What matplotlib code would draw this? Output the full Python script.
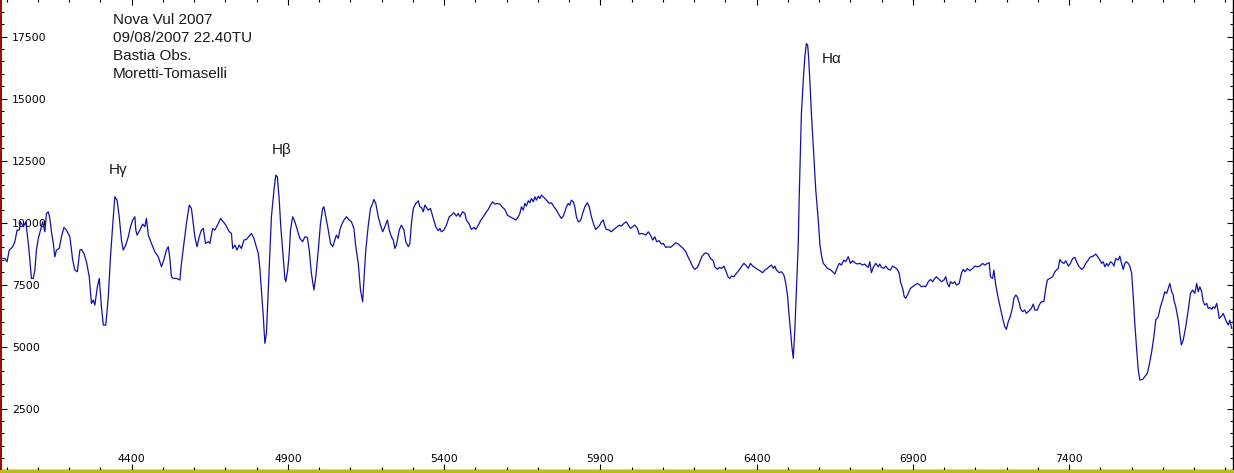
import matplotlib
matplotlib.use("Agg")
import matplotlib.pyplot as plt
from matplotlib.ticker import MultipleLocator
from matplotlib.patches import Rectangle

################################################
# Data
################################################

wavelength = [
    3978, 3983, 3994, 4001, 4008, 4019, 4026, 4033, 4040, 4044, 4053, 4061, 4069, 4074, 4079, 4085,
    4090, 4095, 4101, 4108, 4115, 4122, 4127, 4133, 4138, 4143, 4149, 4154, 4159, 4168, 4175, 4183,
    4191, 4202, 4211, 4218, 4226, 4234, 4239, 4247, 4255, 4264, 4271, 4277, 4282, 4290, 4296, 4303,
    4309, 4317, 4325, 4332, 4341, 4346, 4353, 4360, 4367, 4373, 4381, 4389, 4396, 4403, 4410, 4413,
    4417, 4426, 4435, 4442, 4447, 4453, 4463, 4474, 4485, 4495, 4501, 4511, 4517, 4522, 4527, 4533,
    4543, 4554, 4559, 4567, 4575, 4584, 4591, 4597, 4602, 4609, 4616, 4623, 4629, 4636, 4645, 4650,
    4659, 4666, 4677, 4684, 4693, 4701, 4712, 4719, 4723, 4730, 4737, 4744, 4751, 4759, 4767, 4776,
    4783, 4791, 4797, 4805, 4810, 4815, 4821, 4826, 4831, 4837, 4842, 4847, 4855, 4861, 4866, 4872,
    4877, 4883, 4890, 4893, 4899, 4904, 4908, 4915, 4922, 4930, 4938, 4947, 4954, 4962, 4968, 4975,
    4983, 4989, 4997, 5004, 5011, 5015, 5021, 5029, 5036, 5043, 5050, 5055, 5061, 5066, 5071, 5079,
    5087, 5096, 5103, 5111, 5117, 5125, 5132, 5139, 5143, 5149, 5157, 5164, 5171, 5175, 5181, 5189,
    5196, 5203, 5210, 5218, 5224, 5231, 5237, 5242, 5247, 5256, 5263, 5271, 5277, 5285, 5290,
    5295, 5301, 5309, 5317, 5322, 5327, 5333, 5338, 5343, 5349, 5356, 5365, 5373, 5381, 5386, 5391,
    5399, 5407, 5416, 5423, 5431, 5439, 5445, 5450, 5459, 5466, 5471, 5480, 5487, 5495, 5501, 5509,
    5516, 5525, 5533, 5541, 5548, 5555, 5562, 5570, 5578, 5587, 5594, 5602, 5610, 5621, 5629, 5637,
    5642, 5647, 5653, 5658, 5663, 5669, 5674, 5679, 5685, 5690, 5695, 5701, 5706, 5711, 5719, 5727,
    5736, 5743, 5751, 5759, 5768, 5775, 5781, 5786, 5791, 5797, 5802, 5807, 5813, 5818, 5823, 5829,
    5836, 5843, 5850, 5858, 5864, 5871, 5879, 5885, 5893, 5898, 5903, 5909, 5914, 5919, 5928, 5935,
    5943, 5951, 5960, 5967, 5975, 5983, 5989, 5996, 6003, 6010, 6018, 6024, 6032, 6039, 6045, 6053,
    6060, 6067, 6074, 6080, 6088, 6095, 6101, 6109, 6117, 6124, 6133, 6141, 6149, 6156, 6165, 6173,
    6181, 6188, 6195, 6202, 6210, 6216, 6224, 6231, 6237, 6245, 6252, 6261, 6266, 6274, 6280, 6288,
    6295, 6301, 6309, 6314,
    6319, 6327, 6335, 6344, 6351, 6359, 6365, 6373, 6380, 6387, 6394, 6402, 6410, 6419, 6426, 6434,
    6440, 6447, 6453, 6458, 6463, 6472, 6479, 6487, 6493, 6499, 6503, 6508, 6512, 6517, 6522, 6527,
    6533, 6536, 6540, 6543, 6549, 6554, 6559, 6563, 6566, 6570, 6575, 6583, 6589, 6597, 6602, 6607,
    6613, 6618, 6626, 6634, 6643, 6650, 6658, 6664, 6671, 6679, 6685, 6693, 6700, 6707, 6714, 6722,
    6730, 6739, 6746, 6751, 6757, 6762, 6767, 6773, 6781, 6789, 6794, 6799, 6807, 6813, 6821, 6828,
    6835, 6842, 6850, 6856, 6860, 6867, 6872, 6877, 6885, 6892, 6899, 6906, 6914, 6922,
    6927, 6935, 6941, 6949, 6956, 6963, 6970, 6975, 6984, 6991, 6999, 7005, 7010, 7016, 7020, 7027,
    7034, 7039, 7048, 7055, 7061, 7067, 7074, 7082, 7091, 7098, 7106, 7114, 7123, 7130, 7138, 7144,
    7148, 7155, 7159, 7165, 7173, 7180, 7187, 7194, 7199, 7205, 7212, 7219, 7223, 7229, 7234, 7240,
    7244, 7251, 7258, 7263, 7272, 7279, 7285, 7290, 7298, 7304, 7311, 7319, 7325, 7330, 7338, 7347,
    7354, 7359, 7365, 7370, 7375, 7383, 7389, 7397, 7404, 7411, 7418, 7426, 7432, 7440, 7447, 7453,
    7461, 7466, 7471, 7477, 7485, 7493, 7498, 7504, 7509, 7514, 7520, 7525, 7532, 7539, 7543, 7549,
    7557, 7562, 7567, 7573, 7578, 7583, 7589, 7594, 7600, 7605, 7610, 7616, 7621, 7626, 7635, 7642,
    7650, 7656, 7664, 7671, 7677, 7685, 7692, 7699, 7706, 7712, 7717, 7722, 7728, 7733, 7735, 7741,
    7749, 7754, 7759, 7765, 7773, 7781, 7788, 7795, 7802, 7808, 7813, 7818, 7824, 7829, 7834, 7840,
    7845, 7850, 7856, 7861, 7866, 7872, 7877, 7880, 7888, 7893, 7901, 7909, 7914, 7920,
]

flux = [
    8896, 8560, 8560, 8426, 8896, 9030, 9232, 9702, 9702, 10038, 9836, 10038, 9165, 8493, 7754, 7754,
    8090, 8896, 9366, 9702, 10038, 9635, 10373, 10440, 10172, 9635, 9165, 8627, 8896, 8963, 9433, 9809,
    9702, 9433, 8493, 8090, 8023, 8896, 8923, 8762, 8426, 7822, 6747, 6882, 6680, 7419, 7754, 6613,
    5874, 5874, 7016, 8627, 10239, 11045, 10911, 10239, 9299, 8896, 9098, 9433, 9836, 10105, 10239, 9702,
    9500, 9702, 9944, 9836, 10172, 9500, 9165, 8829, 8627, 8224, 8426, 8896, 9030, 8560, 7822, 7754,
    7754, 7687, 8359, 9165, 9970, 10709, 10575, 9970, 9433, 9030, 9433, 9702, 9769, 9165, 9232, 9165,
    9769, 9702, 9970, 10172, 10038, 9903, 9635, 9568, 8963, 9098, 8896, 9098, 8963, 9299, 9326, 9460,
    9568, 9366, 9098, 8762, 8157, 7284, 6210, 5136, 5539, 7284, 8762, 10239, 11313, 11918, 11851, 10911,
    9836, 8896, 7754, 7620, 8090, 8762, 9702, 10239, 10038, 9702, 9366, 9232, 9433, 9406, 8896, 7956,
    7284, 7822, 8896, 9970, 10575, 10642, 10239, 9702, 9165, 9030, 9299, 9500, 9366, 9702, 9903, 10105,
    10239, 10105, 10038, 9769, 9030, 8359, 7284, 6814, 7687, 8896, 9903, 10575, 10776, 10937, 10776, 10239,
    9903, 9635, 9836, 10105, 9702, 9433, 9299, 8963, 9098, 9702, 9903, 9702, 9232, 9030, 9165,
    9970, 10575, 10776, 10884, 10642, 10615, 10440, 10709, 10615, 10507, 10575, 10172, 9836, 9675, 9769, 9634,
    9702, 9903, 10239, 10306, 10400, 10266, 10373, 10239, 10440, 10373, 10105, 9943, 9729, 9809, 9729, 9903,
    10078, 10239, 10400, 10534, 10709, 10843, 10749, 10776, 10749, 10615, 10534, 10306, 10239, 10172, 10105, 10239,
    10373, 10642, 10507, 10776, 10669, 10884, 10803, 10977, 10843, 11045, 10910, 11071, 10977, 11112, 11018, 10910,
    10776, 10803, 10642, 10507, 10306, 10172, 10266, 10440, 10642, 10776, 10709, 10910, 10843, 10642, 10239, 10037,
    10078, 10373, 10642, 10803, 10642, 10239, 9903, 9729, 9836, 9903, 10037, 10105, 9863, 9729, 9702, 9634,
    9729, 9809, 9903, 9863, 9970, 10037, 9903, 9769, 9836, 9903, 9769, 9540, 9567, 9540, 9500, 9634,
    9500, 9299, 9433, 9232, 9272, 9138, 9165, 9003, 9030, 9003, 9097, 9191, 9138, 9057, 8963, 8829,
    8600, 8426, 8224, 8117, 8197, 8359, 8627, 8735, 8788, 8735, 8560, 8466, 8224, 8117, 8197, 8157,
    8251, 8063, 7795, 7754,
    7850, 7823, 7957, 8091, 8226, 8360, 8293, 8159, 8360, 8253, 8199, 8118, 8065, 7984, 8091, 8159,
    8226, 8293, 8159, 8253, 8091, 7984, 8024, 7890, 7554, 7017, 6345, 5674, 5070, 4532, 5674, 7285,
    9166, 11046, 13061, 14404, 15747, 16687, 17224, 17157, 16687, 15747, 14404, 12658, 11315, 10106, 9166, 8696,
    8360, 8293, 8159, 8118, 8024, 7930, 8199, 8360, 8293, 8494, 8427, 8629, 8360, 8468, 8387, 8333,
    8360, 8293, 8333, 8253, 8199, 8427, 7984, 8199, 8360, 8226, 8333, 8199, 8159, 8253, 8118, 8091,
    8253, 8199, 8118, 7957, 7621, 7353, 7017, 6950, 7151, 7353, 7420, 7487, 7554, 7487,
    7418, 7445, 7418, 7619, 7713, 7619, 7754, 7821, 7713, 7619, 7687, 7821, 7552, 7418, 7619, 7552,
    7619, 7485, 7552, 7955, 8116, 8022, 8157, 8063, 8157, 8251, 8224, 8251, 8358, 8291, 8358, 8385,
    7821, 7754, 8089, 7485, 6948, 6545, 6142, 5806, 5699, 6008, 6236, 6612, 6948, 7082, 7015, 6773,
    6545, 6411, 6478, 6343, 6451, 6545, 6720, 6478, 6478, 6679, 6814, 6814, 7351, 7687, 7754, 7821,
    8022, 8089, 8157, 8519, 8425, 8358, 8465, 8251, 8358, 8559, 8600, 8358, 8224, 8116, 8197, 8358,
    8492, 8600, 8627, 8653, 8734, 8600, 8492, 8358, 8425, 8224, 8358, 8251, 8425, 8358, 8251, 8559,
    8492, 8653, 8385, 8116, 8358, 8425, 8358, 8251, 7955, 7015, 5941, 4866, 4060, 3658, 3684, 3792,
    3926, 4262, 4799, 5403, 6075, 6209, 6612, 6881, 7216, 7149, 7351, 7552, 7216, 7082, 6881, 6612,
    6075, 5538, 5068, 5269, 5806, 6478, 7149, 7284, 7149, 7552, 7216, 7418, 7216, 6814, 6679, 6746,
    6545, 6585, 6505, 6612, 6545, 6746, 6411, 6142, 6236, 6343, 6075, 5873, 6075, 5739,
]

xtick_values = [4400, 4900, 5400, 5900, 6400, 6900, 7400]
ytick_values = [2500, 5000, 7500, 10000, 12500, 15000, 17500]

info_lines = ["Nova Vul 2007", "09/08/2007 22.40TU", "Bastia Obs.", "Moretti-Tomaselli"]

line_names = ["H\u03b3", "H\u03b2", "H\u03b1"]
line_wavelengths = [4328, 4848, 6608]
line_label_flux = [11964, 12750, 16427]

################################################
# Figure
################################################

W, H = 1234, 473
fig = plt.figure(figsize=(W / 100, H / 100), dpi=100)
fig.patch.set_facecolor("white")

ax = fig.add_axes([0.5 / W, 3.5 / H, 1232 / W, 470 / H])
ax.plot(wavelength, flux, color="#1010b0", linewidth=0.9)

ax.set_xlim(3980, 7922.6)
ax.set_ylim(48, 19000)

# ticks
ax.set_xticks(xtick_values)
ax.set_yticks(ytick_values)
ax.xaxis.set_minor_locator(MultipleLocator(100))
ax.yaxis.set_minor_locator(MultipleLocator(500))

ax.tick_params(axis="both", which="both", direction="in",
               top=True, right=True, colors="black", width=0.8)
ax.tick_params(axis="both", which="major", length=4.5)
ax.tick_params(axis="both", which="minor", length=2.3)
ax.tick_params(axis="y", which="major", pad=-8.3, labelsize=7.8)
ax.tick_params(axis="x", which="major", pad=-5.6, labelsize=7.8)

for lbl in ax.get_yticklabels():
    lbl.set_horizontalalignment("left")
for lbl in ax.get_xticklabels():
    lbl.set_verticalalignment("baseline")
    lbl.set_x(0)

# frame
ax.spines["top"].set_visible(False)
ax.spines["left"].set_color("#a80000")
ax.spines["left"].set_linewidth(1.4)
ax.spines["bottom"].set_color("black")
ax.spines["bottom"].set_linewidth(1.0)
ax.spines["right"].set_color("black")
ax.spines["right"].set_linewidth(1.0)

fig.patches.append(Rectangle((0, 0), 1, 3 / H, transform=fig.transFigure,
                             facecolor="#bcbc14", edgecolor="none"))

# header text
for i, line in enumerate(info_lines):
    ax.text(112.5 / W, (469.5 - 24 - 17.9 * i) / 470, line,
            transform=ax.transAxes, fontsize=11, family="Liberation Sans",
            va="baseline", ha="left", color="#1a1a1a")

# line labels
for name, wl, fl in zip(line_names, line_wavelengths, line_label_flux):
    ax.text(wl, fl, name, fontsize=11, family="Liberation Sans",
            va="baseline", ha="left", color="#1a1a1a")

plt.savefig("out.png", dpi=100)
plt.close()
